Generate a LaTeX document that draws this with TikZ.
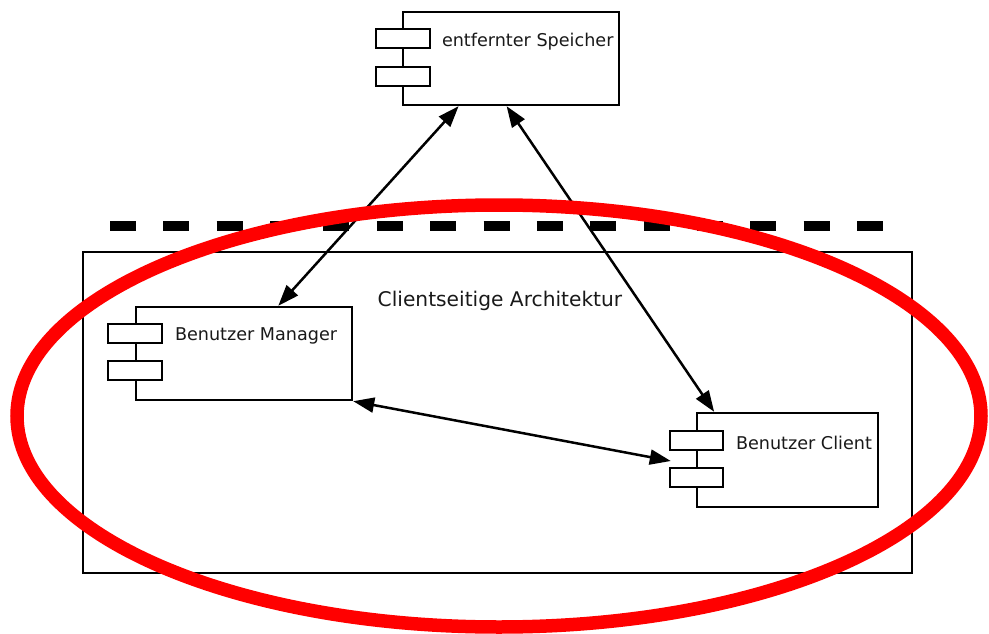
\documentclass[tikz,border=0pt]{standalone}
\usepackage{fontspec}
\setmainfont{DejaVu Sans}
\usetikzlibrary{arrows.meta,calc}
\begin{document}
\begin{tikzpicture}[x=1pt,y=-1pt,
  body/.style={draw=black,line width=2.4pt,fill=white,inner sep=0pt,minimum width=#1},
  body/.default=216pt,
  tab/.style={draw=black,line width=2.4pt,fill=white,inner sep=0pt,minimum width=54pt,minimum height=19pt},
  lbl/.style={anchor=west,inner sep=0pt,font=\fontsize{17.6}{21}\selectfont,text=black!90},
  conn/.style={line width=2.5pt,{Triangle[length=21pt,width=15pt]}-{Triangle[length=21pt,width=15pt]}},
  frame/.style={draw=black,line width=2.4pt,inner sep=0pt},
  sep/.style={line width=10pt,dash pattern=on 26pt off 27.36pt},
  ring/.style={draw=red,line width=13.5pt}
]
\useasboundingbox (0,0) rectangle (989,634);
% frame
\node[frame,minimum width=829pt,minimum height=321pt] (arch) at (497.5,412.5) {};
\node[inner sep=0pt,font=\fontsize{20.2}{24}\selectfont,text=black!90] (archlbl) at (500,301) {Clientseitige Architektur};
% separator
\coordinate (sepL) at (110,226);
\coordinate (sepR) at (885,226);
\draw[sep] (sepL) -- (sepR);
% entfernter Speicher
\node[body,minimum height=93pt] (sp) at (511,58.5) {};
\node[tab] (sp1) at ($(sp.north west)+(1,27.5)$) {};
\node[tab] (sp2) at ($(sp.north west)+(1,65.5)$) {};
\node[lbl] (splbl) at ($(sp.north west)+(40,30.5)$) {entfernter Speicher};
% Benutzer Manager
\node[body,minimum height=93pt] (man) at (244,353.5) {};
\node[tab] (man1) at ($(man.north west)+(0,27.5)$) {};
\node[tab] (man2) at ($(man.north west)+(0,64.5)$) {};
\node[lbl] (manlbl) at ($(man.north west)+(40,30.5)$) {Benutzer Manager};
% Benutzer Client
\node[body=181pt,minimum height=94pt] (cl) at (787.5,460) {};
\node[tab,minimum width=53pt] (cl1) at ($(cl.north west)+(0.5,28.5)$) {};
\node[tab,minimum width=53pt] (cl2) at ($(cl.north west)+(0.5,65.5)$) {};
\node[lbl] (cllbl) at ($(cl.north west)+(40,31)$) {Benutzer Client};
% connectors
\coordinate (clin) at ($(cl.west)+(-25,1)$);
\draw[conn] ($(sp.south west)!0.26!(sp.south east)$) -- ($(man.north west)!0.657!(man.north east)$);
\draw[conn] ($(sp.south west)!0.48!(sp.south east)$) -- ($(cl.north west)!0.1!(cl.north east)$);
\draw[conn] (man.south east) -- (clin);
% red ellipse
\draw[ring] (499,416) ellipse [x radius=482, y radius=211];
\end{tikzpicture}
\end{document}
